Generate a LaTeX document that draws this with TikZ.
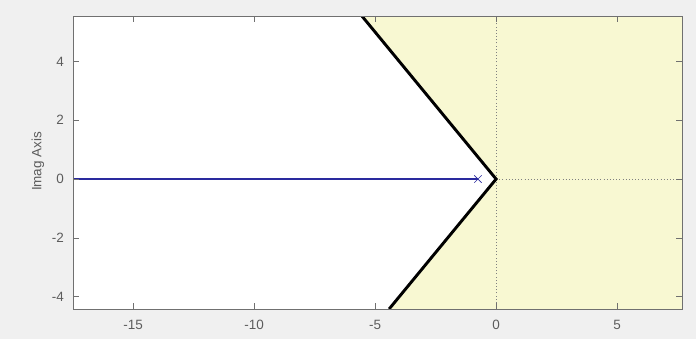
\documentclass[tikz,border=0pt]{standalone}
\usepackage{fontspec}
\setmainfont{Liberation Sans}
\usetikzlibrary{shapes.misc}
\definecolor{figbg}{HTML}{F0F0F0}
\definecolor{regionyl}{HTML}{F8F8D2}
\definecolor{axgray}{HTML}{707070}
\definecolor{txtgray}{HTML}{5C5C5C}
\definecolor{locusblue}{HTML}{2A2A9E}
\tikzset{
  axbox/.style   = {draw=axgray, line width=0.7pt},
  tck/.style     = {draw=axgray, line width=0.5pt},
  ticklab/.style = {font=\fontsize{11.5}{13}\selectfont, text=txtgray, inner sep=0pt},
  bound/.style   = {draw=black, line width=2.5pt},
  locus/.style   = {draw=locusblue, line width=1pt},
  zeroln/.style  = {draw=gray, line width=0.7pt, dotted},
  polemk/.style  = {cross out, draw=locusblue, line width=0.6pt,
                    minimum size=2mm, inner sep=0pt},
}
\begin{document}
\begin{tikzpicture}[x=0.726cm, y=0.882cm]
    \useasboundingbox[fill=figbg] (-20.5,-5.44) rectangle (8.26,6.09);
    % plot area
    \coordinate (sw) at (-17.48,-4.42);
    \coordinate (ne) at (7.69,5.54);
    \coordinate (org) at (0,0);
    \coordinate (ulim) at (-5.54,5.54);
    \coordinate (llim) at (-4.42,-4.42);
    \fill[white] (sw) rectangle (ne);
    \fill[regionyl] (org) -- (ulim) -- (ne) -- (7.69,-4.42) -- (llim) -- cycle;
    \draw[zeroln] (0,-4.42) -- (0,5.54);
    \draw[zeroln] (org) -- (7.69,0);
    \draw[locus] (-17.48,0) -- (-0.75,0);
    \node[polemk] (pole) at (-0.75,0) {};
    \begin{scope}
      \clip (sw) rectangle (ne);
      \draw[bound, line join=miter] (ulim) -- (org) -- (llim);
    \end{scope}
    % ticks and labels
    \foreach \x in {-15,-10,-5,0,5}{%
      \draw[tck] (\x,-4.42) -- ++(0,0.2);
      \draw[tck] (\x,5.54) -- ++(0,-0.2);
      \node[ticklab, anchor=center] (xl\x) at (\x,-4.97) {\x};}
    \foreach \y in {-4,-2,0,2,4}{%
      \draw[tck] (-17.48,\y) -- ++(0.25,0);
      \draw[tck] (7.69,\y) -- ++(-0.25,0);
      \node[ticklab, anchor=east] (yl\y) at (-17.85,\y) {\y};}
    \draw[axbox] (sw) rectangle (ne);
    \node[ticklab, rotate=90] (ylab) at (-18.93,0.6) {Imag Axis};
\end{tikzpicture}
\end{document}
